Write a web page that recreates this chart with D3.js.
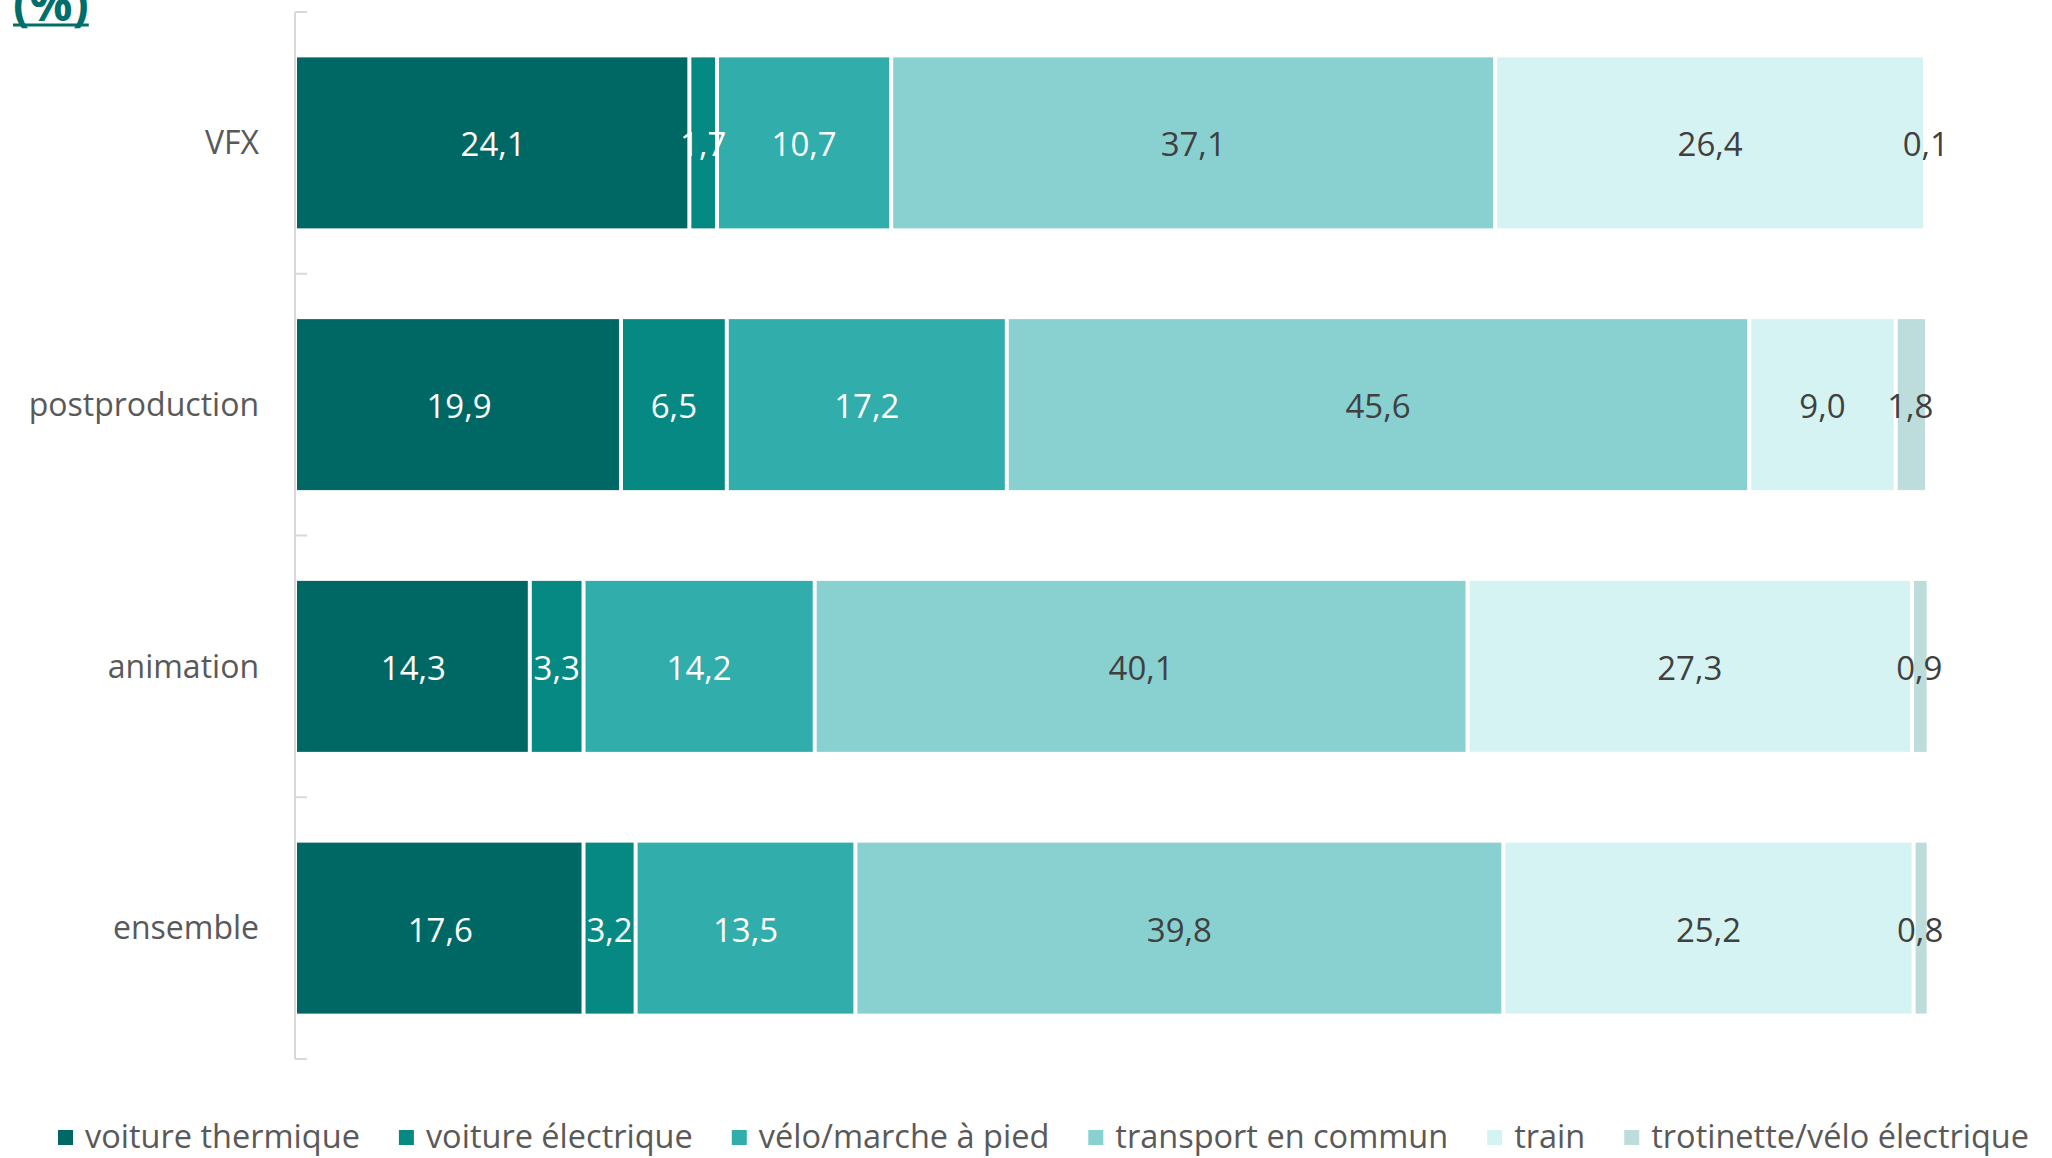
<!DOCTYPE html>
<html><head><meta charset="utf-8">
<script src="https://cdn.jsdelivr.net/npm/d3@7"></script>
<style>
html,body{margin:0;padding:0;background:#fff;}
svg{display:block;font-family:"Open Sans",sans-serif;}
</style></head>
<body>
<svg id="chart" width="2052" height="1158"></svg>
<script>
const categories = ["VFX", "postproduction", "animation", "ensemble"];
const seriesNames = ["voiture thermique", "voiture électrique", "vélo/marche à pied", "transport en commun", "train", "trotinette/vélo électrique"];
const voitureThermique = [24.1, 19.9, 14.3, 17.6];
const voitureElectrique = [1.7, 6.5, 3.3, 3.2];
const veloMarche = [10.7, 17.2, 14.2, 13.5];
const transportCommun = [37.1, 45.6, 40.1, 39.8];
const train = [26.4, 9.0, 27.3, 25.2];
const trotinette = [0.1, 1.8, 0.9, 0.8];
const colors = ["#006864", "#078983", "#31adac", "#89d1d0", "#d6f3f3", "#bddcdc"];
const labelColors = ["#ffffff", "#ffffff", "#ffffff", "#404040", "#404040", "#404040"];
const titleText = "(%)";

const seriesValues = [voitureThermique, voitureElectrique, veloMarche, transportCommun, train, trotinette];
const rows = categories.map((c, i) => {
  const r = {category: c};
  seriesNames.forEach((s, j) => r[s] = seriesValues[j][i]);
  return r;
});
const stacked = d3.stack().keys(seriesNames)(rows);

const svg = d3.select("#chart");
const fontSize = 32;

const y = d3.scaleBand().domain(categories).range([12, 1059]).paddingInner(0.3467).paddingOuter(0.3467 / 2);
const x = d3.scaleLinear().domain([0, 100]).range([297, 1925]);

// axis line + ticks
const axisG = svg.append("g");
axisG.append("line").attr("x1", 295).attr("x2", 295).attr("y1", 12).attr("y2", 1059)
  .attr("stroke", "#d9d9d9").attr("stroke-width", 2);
const step = y.step();
d3.range(categories.length + 1).forEach(i => {
  const yy = y.range()[0] + i * step;
  axisG.append("line").attr("x1", 295).attr("x2", 307).attr("y1", yy).attr("y2", yy)
    .attr("stroke", "#d9d9d9").attr("stroke-width", 2);
});

// category labels
svg.append("g").selectAll("text").data(categories).join("text")
  .attr("x", 259).attr("y", d => y(d) + y.bandwidth() / 2)
  .attr("dy", "0.35em").attr("text-anchor", "end")
  .attr("font-size", fontSize).attr("fill", "#595959").text(d => d);

// bars
const nS = seriesNames.length;
stacked.forEach((layer, si) => {
  const g = svg.append("g");
  g.selectAll("rect").data(layer).join("rect")
    .attr("x", d => x(d[0]) + (si > 0 ? 2 : 0))
    .attr("y", d => y(d.data.category))
    .attr("width", d => Math.max(0, x(d[1]) - x(d[0]) - (si > 0 ? 2 : 0) - (si < nS - 1 ? 2 : 0)))
    .attr("height", y.bandwidth())
    .attr("fill", colors[si]);
});
stacked.forEach((layer, si) => {
  svg.append("g").selectAll("text").data(layer).join("text")
    .attr("x", d => (x(d[0]) + x(d[1])) / 2)
    .attr("y", d => y(d.data.category) + y.bandwidth() / 2 + 2)
    .attr("dy", "0.35em").attr("text-anchor", "middle")
    .attr("font-size", 33).attr("fill", labelColors[si])
    .text(d => d3.format(".1f")(d[1] - d[0]).replace(".", ","));
});

// title
const t = svg.append("text").attr("x", 13).attr("y", 21)
  .attr("font-size", 48).attr("font-weight", "bold").attr("fill", "#006e6a").text(titleText);
const tw = t.node().getComputedTextLength();
svg.append("line").attr("x1", 13).attr("x2", 13 + tw).attr("y1", 25).attr("y2", 25)
  .attr("stroke", "#006e6a").attr("stroke-width", 3);

// legend
const leg = svg.append("g");
let lx = 58;
seriesNames.forEach((s, i) => {
  const item = leg.append("g");
  item.append("rect").attr("x", lx).attr("y", 1130).attr("width", 15).attr("height", 15).attr("fill", colors[i]);
  const txt = item.append("text").attr("x", lx + 27).attr("y", 1137).attr("dy", "0.35em")
    .attr("font-size", 32.5).attr("fill", "#595959").text(s);
  lx += 27 + txt.node().getComputedTextLength() + 39;
});
</script>
</body></html>
